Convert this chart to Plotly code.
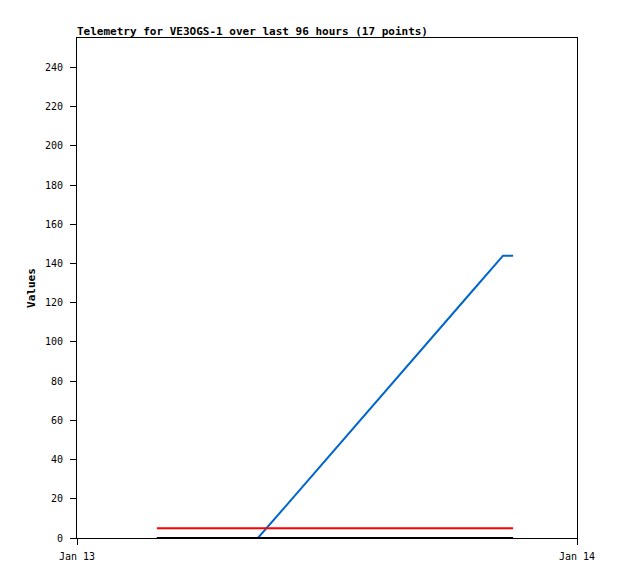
import plotly.graph_objects as go

times = ["2024-01-13 03:50", "2024-01-13 05:00", "2024-01-13 06:12", "2024-01-13 07:24",
         "2024-01-13 08:41", "2024-01-13 10:00", "2024-01-13 11:18", "2024-01-13 12:36",
         "2024-01-13 13:54", "2024-01-13 15:12", "2024-01-13 16:30", "2024-01-13 17:48",
         "2024-01-13 19:06", "2024-01-13 20:27", "2024-01-13 20:36", "2024-01-13 20:45",
         "2024-01-13 20:56"]
blue_vals = [0, 0, 0, 0, 0, 16, 32, 48, 64, 80, 96, 111.5, 127.5, 144, 144, 144, 144]
red_vals = [5] * 17
black_vals = [0] * 17
y_ticks = [0, 20, 40, 60, 80, 100, 120, 140, 160, 180, 200, 220, 240]
x_ticks = ["2024-01-13", "2024-01-14"]
x_tick_labels = ["Jan 13", "Jan 14"]

font_mono = "DejaVu Sans Mono, Liberation Mono, monospace"

W, H = 610, 571

fig = go.Figure()
fig.add_trace(go.Scatter(x=times, y=blue_vals, mode="lines",
                         line=dict(color="#0066cc", width=2), showlegend=False))
fig.add_trace(go.Scatter(x=times, y=red_vals, mode="lines",
                         line=dict(color="#ff0000", width=2), showlegend=False))
fig.add_trace(go.Scatter(x=times, y=black_vals, mode="lines",
                         line=dict(color="#000000", width=2), showlegend=False))

fig.update_layout(
    width=W, height=H,
    margin=dict(l=69, r=41, t=30, b=41),
    paper_bgcolor="white", plot_bgcolor="white",
    font=dict(family=font_mono, size=10, color="black"),
    title=dict(text="<b>Telemetry for VE3OGS-1 over last 96 hours (17 points)</b>",
               x=69 / W, xanchor="left", y=1 - 23 / H, yanchor="middle",
               font=dict(family=font_mono, size=11, color="black")),
    xaxis=dict(range=[x_ticks[0], x_ticks[1]], tickvals=x_ticks, ticktext=x_tick_labels,
               showgrid=False, zeroline=False, showline=True, linecolor="black",
               linewidth=1, mirror=True, ticks="outside", ticklen=6, tickcolor="black",
               ticklabelstandoff=3),
    yaxis=dict(range=[0, 255], tickvals=y_ticks, showgrid=False, zeroline=False,
               showline=True, linecolor="black", linewidth=1, mirror=True,
               ticks="outside", ticklen=6, tickcolor="black", ticklabelstandoff=5,
               title=dict(text="<b>Values</b>", standoff=7,
                          font=dict(family=font_mono, size=11, color="black"))),
)

fig.write_html("out.html")
